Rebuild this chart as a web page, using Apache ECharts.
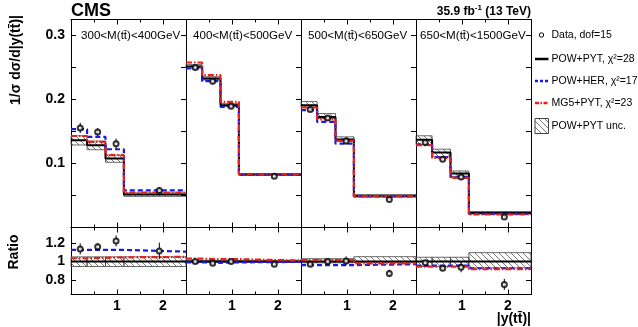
<!DOCTYPE html>
<html><head><meta charset="utf-8">
<script src="https://cdn.jsdelivr.net/npm/echarts@6/dist/echarts.min.js"></script>
<style>html,body{margin:0;padding:0;background:#fff}#c{width:638px;height:327px}</style>
</head><body><div id="c"></div>
<script>
// ---------------- data ----------------
const panelLabels = ['300<M(tt\u0304)<400GeV', '400<M(tt\u0304)<500GeV', '500<M(tt\u0304)<650GeV', '650<M(tt\u0304)<1500GeV'];
const binEdges = [0, 0.35, 0.75, 1.15, 2.5];
const dataX = [0.2, 0.58, 0.98, 1.92];

const powPyt = [
  [0.1364, 0.1286, 0.1078, 0.0515],
  [0.2515, 0.2328, 0.1912, 0.0828],
  [0.1910, 0.1728, 0.1375, 0.0489],
  [0.1370, 0.1170, 0.0844, 0.0228]
];
const powHer = [
  [0.1536, 0.1416, 0.1223, 0.0580],
  [0.2484, 0.2286, 0.1885, 0.0825],
  [0.1833, 0.1650, 0.1310, 0.0484],
  [0.1300, 0.1100, 0.0790, 0.0212]
];
const mg5Pyt = [
  [0.1430, 0.1338, 0.1130, 0.0545],
  [0.2578, 0.2380, 0.1963, 0.0832],
  [0.1875, 0.1690, 0.1353, 0.0485],
  [0.1285, 0.1088, 0.0775, 0.0203]
];
const dataVal = [
  [0.1556, 0.1494, 0.1310, 0.0580],
  [0.2500, 0.2286, 0.1895, 0.0800],
  [0.1844, 0.1710, 0.1353, 0.0438],
  [0.1330, 0.1067, 0.0790, 0.0166]
];
const dataErr = [
  [0.008, 0.006, 0.008, 0.005],
  [0.004, 0.005, 0.004, 0.002],
  [0.004, 0.003, 0.006, 0.002],
  [0.004, 0.004, 0.005, 0.002]
];
// relative POW+PYT uncertainty band (lower / upper)
const uncLo = [
  [0.945, 0.945, 0.945, 0.945],
  [0.990, 0.990, 0.990, 0.990],
  [0.985, 0.985, 0.985, 0.990],
  [0.945, 0.945, 0.945, 0.930]
];
const uncHi = [
  [1.050, 1.050, 1.050, 1.050],
  [1.012, 1.012, 1.012, 1.012],
  [1.030, 1.030, 1.030, 1.052],
  [1.046, 1.046, 1.046, 1.096]
];
// ratio panel (relative to POW+PYT)
const ratioPowPyt = [[1, 1, 1, 1], [1, 1, 1, 1], [1, 1, 1, 1], [1, 1, 1, 1]];
const ratioHer = [
  [1.126, 1.126, 1.126, 1.107],
  [0.990, 0.985, 0.990, 0.995],
  [0.960, 0.960, 0.960, 0.970],
  [0.954, 0.954, 0.954, 0.926]
];
const ratioMg5 = [
  [1.035, 1.040, 1.045, 1.050],
  [1.030, 1.025, 1.025, 1.010],
  [1.016, 1.016, 1.016, 0.980],
  [0.943, 0.943, 0.943, 0.915]
];
const ratioData = [
  [1.137, 1.160, 1.224, 1.115],
  [1.000, 0.980, 1.000, 0.970],
  [0.970, 1.000, 1.005, 0.870],
  [0.987, 0.926, 0.937, 0.750]
];
const ratioDataErr = [
  [0.060, 0.040, 0.060, 0.090],
  [0.015, 0.020, 0.015, 0.020],
  [0.020, 0.015, 0.050, 0.040],
  [0.025, 0.025, 0.055, 0.060]
];
const xTickLabels = [1, 2];
const yMainLabels = [0.1, 0.2, 0.3];
const yMainTicks = [0.05, 0.1, 0.15, 0.2, 0.25, 0.3];
const yRatioLabels = [0.8, 1, 1.2];
const yRatioTicks = [0.8, 1, 1.2];
const legendNames = ['Data, dof=15', 'POW+PYT, \u03c7\u00b2=28', 'POW+HER, \u03c7\u00b2=17', 'MG5+PYT, \u03c7\u00b2=23', 'POW+PYT unc.'];

// ---------------- layout / style ----------------
const FONT = '"Liberation Sans", Arial, Helvetica, sans-serif';
const L0 = 71, PW = 115, MT = 19.5, MH = 208, RT = 227.5, RH = 67;
const BLUE = '#1a1ae6', RED = '#e8201c';
const labelOffs = [10, 7, 7, 4];

function makeHatch() {
  const s = 6, c = document.createElement('canvas');
  c.width = s; c.height = s;
  const g = c.getContext('2d');
  g.strokeStyle = '#555'; g.lineWidth = 0.8;
  g.beginPath();
  g.moveTo(0, 0); g.lineTo(s, s);
  g.moveTo(-1, s - 1); g.lineTo(1, s + 1);
  g.moveTo(s - 1, -1); g.lineTo(s + 1, 1);
  g.stroke();
  return c;
}
const hatch = { image: makeHatch(), repeat: 'repeat' };

const mctx = document.createElement('canvas').getContext('2d');
function tw(t, f) { mctx.font = f; return mctx.measureText(t).width; }

function stepData(vals) {
  const d = vals.map((v, b) => [binEdges[b], v]);
  d.push([binEdges[binEdges.length - 1], vals[vals.length - 1]]);
  return d;
}
function bandItem(params, api) {
  const p0 = api.coord([api.value(0), api.value(3)]);
  const p1 = api.coord([api.value(1), api.value(2)]);
  return { type: 'rect', shape: { x: p0[0], y: p0[1], width: p1[0] - p0[0], height: p1[1] - p0[1] },
    style: { fill: hatch, stroke: '#444', lineWidth: 0.8 } };
}
function errItem(params, api) {
  const a = api.coord([api.value(0), api.value(1)]);
  const b = api.coord([api.value(0), api.value(2)]);
  return { type: 'line', shape: { x1: a[0], y1: a[1], x2: b[0], y2: b[1] }, style: { stroke: '#000', lineWidth: 1 } };
}

const grid = [], xAxis = [], yAxis = [], series = [];
for (let i = 0; i < 4; i++) grid.push({ left: L0 + i * PW, top: MT, width: PW, height: MH });
for (let i = 0; i < 4; i++) grid.push({ left: L0 + i * PW, top: RT, width: PW, height: RH });

const axLine = { show: true, onZero: false, lineStyle: { color: '#000', width: 1 } };
function xAx(gi, pos, labels) {
  return {
    type: 'value', gridIndex: gi, position: pos, min: 0, max: 2.5, interval: 1,
    axisLine: axLine,
    axisTick: { show: true, inside: true, length: 5, lineStyle: { color: '#000' } },
    minorTick: { show: true, splitNumber: 2, length: 3, lineStyle: { color: '#000' } },
    splitLine: { show: false }, minorSplitLine: { show: false },
    axisLabel: labels ? { show: true, customValues: labels, fontWeight: 'bold', fontSize: 14, fontFamily: FONT, color: '#000', margin: 5 } : { show: false }
  };
}
function yAx(gi, pos, min, max, ticks, labels, showTicks) {
  return {
    type: 'value', gridIndex: gi, position: pos, min: min, max: max,
    axisLine: axLine,
    axisTick: { show: showTicks, inside: true, length: 5, customValues: ticks, lineStyle: { color: '#000' } },
    splitLine: { show: false },
    axisLabel: labels ? { show: true, customValues: labels, fontWeight: 'bold', fontSize: 14, fontFamily: FONT, color: '#000', margin: 6 } : { show: false }
  };
}

for (let i = 0; i < 4; i++) {
  xAxis.push(xAx(i, 'bottom', null));
  xAxis.push(xAx(i, 'top', null));
  xAxis.push(xAx(4 + i, 'bottom', xTickLabels));
  xAxis.push(xAx(4 + i, 'top', null));
  yAxis.push(yAx(i, 'left', 0, 0.325, yMainTicks, i === 0 ? yMainLabels : null, i === 0));
  yAxis.push(yAx(i, 'right', 0, 0.325, yMainTicks, null, true));
  yAxis.push(yAx(4 + i, 'left', 0.64, 1.37, yRatioTicks, i === 0 ? yRatioLabels : null, i === 0));
  yAxis.push(yAx(4 + i, 'right', 0.64, 1.37, yRatioTicks, null, true));

  const bins = [0, 1, 2, 3];
  [[4 * i, 4 * i, false], [4 * i + 2, 4 * i + 2, true]].forEach(([xi, yi, isRatio]) => {
    const ref = isRatio ? ratioPowPyt[i] : powPyt[i];
    const her = isRatio ? ratioHer[i] : powHer[i];
    const mg5 = isRatio ? ratioMg5[i] : mg5Pyt[i];
    const dv = isRatio ? ratioData[i] : dataVal[i];
    const de = isRatio ? ratioDataErr[i] : dataErr[i];
    const lo = isRatio ? uncLo[i] : bins.map(b => powPyt[i][b] * uncLo[i][b]);
    const hi = isRatio ? uncHi[i] : bins.map(b => powPyt[i][b] * uncHi[i][b]);
    series.push({ type: 'custom', xAxisIndex: xi, yAxisIndex: yi, renderItem: bandItem, z: 1, silent: true,
      data: bins.map(b => [binEdges[b], binEdges[b + 1], lo[b], hi[b]]) });
    series.push({ type: 'line', step: 'end', xAxisIndex: xi, yAxisIndex: yi, symbol: 'none', z: 2, silent: true,
      data: stepData(ref), lineStyle: { color: '#000', width: 2 } });
    series.push({ type: 'line', step: 'end', xAxisIndex: xi, yAxisIndex: yi, symbol: 'none', z: 3, silent: true,
      data: stepData(her), lineStyle: { color: BLUE, width: 2.2, type: [5, 3] } });
    series.push({ type: 'line', step: 'end', xAxisIndex: xi, yAxisIndex: yi, symbol: 'none', z: 4, silent: true,
      data: stepData(mg5), lineStyle: { color: RED, width: 2.2, type: [6, 2, 1.5, 2] } });
    series.push({ type: 'custom', xAxisIndex: xi, yAxisIndex: yi, renderItem: errItem, z: 5, silent: true,
      data: bins.map(b => [dataX[b], dv[b] - de[b], dv[b] + de[b]]) });
    series.push({ type: 'scatter', xAxisIndex: xi, yAxisIndex: yi, z: 6, silent: true,
      symbol: 'emptyCircle', symbolSize: 5, itemStyle: { color: '#000', borderWidth: 1 },
      data: bins.map(b => [dataX[b], dv[b]]) });
  });
}

// ---------------- text / legend ----------------
const graphic = [];
graphic.push({ type: 'text', x: 71, y: 11, style: { text: 'CMS', font: 'bold 18px ' + FONT, fill: '#000', verticalAlign: 'middle' } });
const fL = 'bold 12px ' + FONT, fS = 'bold 8px ' + FONT;
const t3 = ' (13 TeV)', t2 = '-1', t1 = '35.9 fb';
const x3 = 531 - tw(t3, fL), x2 = x3 - tw(t2, fS), x1 = x2 - tw(t1, fL);
graphic.push({ type: 'text', x: x1, y: 12, style: { text: t1, font: fL, fill: '#000', verticalAlign: 'middle' } });
graphic.push({ type: 'text', x: x2, y: 8, style: { text: t2, font: fS, fill: '#000', verticalAlign: 'middle' } });
graphic.push({ type: 'text', x: x3, y: 12, style: { text: t3, font: fL, fill: '#000', verticalAlign: 'middle' } });

for (let i = 0; i < 4; i++) {
  graphic.push({ type: 'text', x: L0 + i * PW + labelOffs[i], y: 36,
    style: { text: panelLabels[i], font: '11.6px ' + FONT, fill: '#000', verticalAlign: 'middle' } });
}
graphic.push({ type: 'text', x: 16, y: 60, rotation: Math.PI / 2,
  style: { text: '1/\u03c3 d\u03c3/d|y(tt\u0304)|', font: 'bold 14px ' + FONT, fill: '#000', align: 'center', verticalAlign: 'middle' } });
graphic.push({ type: 'text', x: 14, y: 252, rotation: Math.PI / 2,
  style: { text: 'Ratio', font: 'bold 14px ' + FONT, fill: '#000', align: 'center', verticalAlign: 'middle' } });
graphic.push({ type: 'text', x: 531, y: 319,
  style: { text: '|y(tt\u0304)|', font: 'bold 14px ' + FONT, fill: '#000', align: 'right', verticalAlign: 'middle' } });

// legend
const LX = 535, LW = 13.5, TX = 551.5, lys = [35, 59, 81, 103, 126];
const lf = '10.5px ' + FONT;
graphic.push({ type: 'circle', shape: { cx: 541.5, cy: lys[0], r: 2.2 }, style: { fill: '#fff', stroke: '#000', lineWidth: 1 } });
graphic.push({ type: 'line', shape: { x1: LX, y1: lys[1], x2: LX + LW, y2: lys[1] }, style: { stroke: '#000', lineWidth: 2.5 } });
graphic.push({ type: 'line', shape: { x1: LX, y1: lys[2], x2: LX + LW, y2: lys[2] }, style: { stroke: BLUE, lineWidth: 2.5, lineDash: [3, 2] } });
graphic.push({ type: 'line', shape: { x1: LX, y1: lys[3], x2: LX + LW, y2: lys[3] }, style: { stroke: RED, lineWidth: 2.5, lineDash: [4, 1.5, 1.5, 1.5] } });
graphic.push({ type: 'rect', shape: { x: LX, y: lys[4] - 7.5, width: LW, height: 15 }, style: { fill: hatch, stroke: '#444', lineWidth: 1 } });
legendNames.forEach((n, k) => {
  graphic.push({ type: 'text', x: TX, y: lys[k], style: { text: n, font: lf, fill: '#000', verticalAlign: 'middle' } });
});

const chart = echarts.init(document.getElementById('c'), null, { renderer: 'canvas' });
chart.setOption({
  animation: false,
  backgroundColor: '#fff',
  grid: grid, xAxis: xAxis, yAxis: yAxis, series: series, graphic: graphic
});
</script></body></html>
